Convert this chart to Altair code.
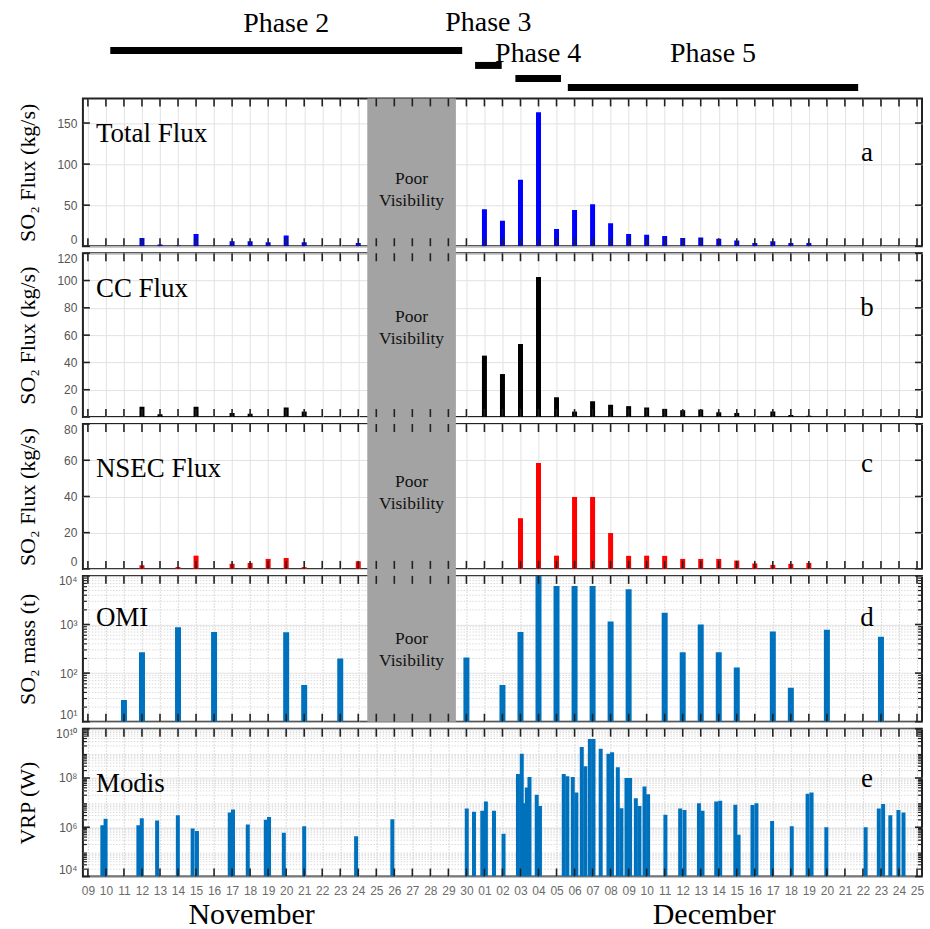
import altair as alt
import pandas as pd

BASE = pd.Timestamp("2021-11-09")


def to_days(values):
    return [(pd.Timestamp(v) - BASE) / pd.Timedelta(days=1) for v in values]


# ---------------- data ----------------
phase_names = ["Phase 2", "Phase 3", "Phase 4", "Phase 5"]
phase_start = ["2021-11-10 12:00", "2021-11-30 12:00", "2021-12-02 17:00", "2021-12-05 14:00"]
phase_end = ["2021-11-29 19:00", "2021-12-01 23:00", "2021-12-05 05:00", "2021-12-21 12:00"]

poor_vis_start = ["2021-11-24 12:00"]
poor_vis_end = ["2021-11-29 10:00"]

total_dates = ["2021-11-12", "2021-11-13", "2021-11-14", "2021-11-15", "2021-11-17",
               "2021-11-18", "2021-11-19", "2021-11-20", "2021-11-21", "2021-11-24",
               "2021-12-01", "2021-12-02", "2021-12-03", "2021-12-04", "2021-12-05",
               "2021-12-06", "2021-12-07", "2021-12-08", "2021-12-09", "2021-12-10",
               "2021-12-11", "2021-12-12", "2021-12-13", "2021-12-14", "2021-12-15",
               "2021-12-16", "2021-12-17", "2021-12-18", "2021-12-19"]
total_flux = [10, 2, 1, 15, 6, 6, 5, 13, 5, 4,
              45, 31, 81, 163, 21, 44, 51, 28, 15, 14,
              12.5, 10, 10.5, 9, 7, 4, 6, 4, 4]

cc_dates = ["2021-11-12", "2021-11-13", "2021-11-15", "2021-11-17", "2021-11-18",
            "2021-11-20", "2021-11-21",
            "2021-12-01", "2021-12-02", "2021-12-03", "2021-12-04", "2021-12-05",
            "2021-12-06", "2021-12-07", "2021-12-08", "2021-12-09", "2021-12-10",
            "2021-12-11", "2021-12-12", "2021-12-13", "2021-12-14", "2021-12-15",
            "2021-12-17", "2021-12-18", "2021-12-19"]
cc_flux = [7.5, 2, 7.5, 3, 2.5, 7, 4,
           45, 31.5, 53.5, 102.5, 14.5, 4, 11.5, 9, 8, 7,
           6, 5, 5.5, 3.5, 3, 4, 1.5, 1]

nsec_dates = ["2021-11-12", "2021-11-14", "2021-11-15", "2021-11-17", "2021-11-18",
              "2021-11-19", "2021-11-20", "2021-11-21", "2021-11-24",
              "2021-12-03", "2021-12-04", "2021-12-05", "2021-12-06", "2021-12-07",
              "2021-12-08", "2021-12-09", "2021-12-10", "2021-12-11", "2021-12-12",
              "2021-12-13", "2021-12-14", "2021-12-15", "2021-12-16", "2021-12-17",
              "2021-12-18", "2021-12-19"]
nsec_flux = [2, 1, 7.3, 2.8, 3.3, 5.5, 6, 1, 4.2,
             28, 58.5, 7.3, 39.7, 39.7, 19.8, 7.2, 7.3, 7.2, 5.5,
             5.5, 5.5, 4.6, 3, 2.2, 2.8, 3.3]

omi_dates = ["2021-11-11", "2021-11-12", "2021-11-14", "2021-11-16", "2021-11-20",
             "2021-11-21", "2021-11-23", "2021-11-30",
             "2021-12-02", "2021-12-03", "2021-12-04", "2021-12-05", "2021-12-06",
             "2021-12-07", "2021-12-08", "2021-12-09", "2021-12-11", "2021-12-12",
             "2021-12-13", "2021-12-14", "2021-12-15", "2021-12-17", "2021-12-18",
             "2021-12-20", "2021-12-23"]
omi_mass = [28, 270, 880, 700, 690, 57, 200, 210,
            57, 700, 11000, 6200, 6200, 6200, 1150, 5300, 1750, 270,
            1000, 270, 130, 720, 50, 780, 560]

# MODIS overpass times, in days after 2021-11-09 00:00
modis_days = [0.80, 0.98, 2.80, 2.99, 3.84, 4.99, 5.81, 6.05, 7.87, 8.05,
              8.87, 9.87, 10.05, 10.87, 12.00, 14.88, 16.89, 21.02, 21.42, 21.88,
              22.08, 22.53, 23.06, 23.86, 24.07, 24.20, 24.35, 24.50, 24.90, 25.08,
              26.40, 26.60, 26.90, 27.10, 27.40, 27.60, 27.85, 28.05, 28.45, 28.88,
              29.08, 29.40, 29.60, 29.88, 30.08, 30.40, 30.60, 30.88, 31.08, 32.04,
              32.86, 33.10, 33.90, 34.10, 34.86, 35.08, 35.92, 36.10, 36.87, 37.09,
              37.96, 39.05, 39.93, 40.15, 40.97, 43.15, 43.88, 44.12, 44.52, 44.97,
              45.25]
modis_vrp = [1.2e6, 2.2e6, 1.2e6, 2.3e6, 1.9e6, 3.1e6, 9e5, 7e5, 4e6, 5.3e6,
             1.3e6, 2.0e6, 2.6e6, 6e5, 1.1e6, 4.3e5, 2.1e6, 5.8e6, 4.3e6, 4.7e6,
             1.1e7, 4.7e6, 5.5e5, 1.45e8, 9.7e8, 9.4e6, 4.1e7, 1.1e8, 2.1e7, 7.3e6,
             1.45e8, 1.17e8, 1.1e8, 2.6e7, 1.8e9, 3e8, 3.8e9, 3.8e9, 1.55e9, 9.7e8,
             1.1e9, 2.7e8, 5.9e6, 1e8, 1e8, 1.5e7, 7.3e6, 4.5e7, 2.2e7, 3.2e6,
             5.8e6, 5e6, 9.4e6, 4.7e6, 1.1e7, 1.2e7, 8.3e6, 5e5, 8.1e6, 9.4e6,
             1.8e6, 1.1e6, 2.3e7, 2.6e7, 1.0e6, 1.0e6, 5.8e6, 8.9e6, 3.1e6, 5e6,
             4e6]

month_names = ["November", "December"]
month_centers = ["2021-11-18 02:00", "2021-12-13 18:00"]

# ---------------- styling ----------------
W = 840
SERIF = "Liberation Serif"
SANS = "Liberation Sans"
FRAME = "#222222"
XS = alt.Scale(domain=[0, 46], nice=False, zero=False)
day_ticks = list(range(0, 47))
SUP = {"0": "\u2070", "1": "\u00b9", "2": "\u00b2", "3": "\u00b3", "4": "\u2074",
       "5": "\u2075", "6": "\u2076", "7": "\u2077", "8": "\u2078", "9": "\u2079"}


def pow_label_expr(exps):
    expr = "''"
    for k in reversed(exps):
        sup = "".join(SUP[c] for c in str(k))
        expr = f"datum.value == {10 ** k} ? '10{sup}' : ({expr})"
    return expr


def x_axis(show_labels, dotted):
    kw = dict(values=day_ticks, ticks=False, domain=False, grid=True,
              gridColor="#e2e2e2", gridWidth=1, title=None)
    if dotted:
        kw["gridDash"] = [1.5, 1.5]
        kw["gridColor"] = "#cfcfcf"
    if show_labels:
        kw.update(labels=True,
                  labelExpr="timeFormat(datetime(2021, 10, 9 + datum.value), '%d')",
                  labelFont=SANS, labelFontSize=12, labelColor="#6b6b6b",
                  labelPadding=9, labelOverlap=False, labelFlush=False, labelAngle=0)
    else:
        kw["labels"] = False
    return alt.Axis(**kw)


def series_df(dates, values):
    return pd.DataFrame({"d": to_days(dates), "v": values})


band_df = pd.DataFrame({"s": to_days(poor_vis_start), "e": to_days(poor_vis_end),
                        "t": ["Poor\nVisibility"]})
day_df = pd.DataFrame({"d": day_ticks})


def panel(df, color, h, ys, y_major, y_title, name, name_y, letter, letter_y,
          label_expr=None, log_exps=None, base=None, bar_size=5,
          show_x=False, band=None, extra=None):
    xax = x_axis(show_x, log_exps is not None)
    yaxis_kw = dict(values=y_major, ticks=False, domain=False, grid=True,
                    gridColor="#e2e2e2", labelFont=SANS, labelFontSize=12,
                    labelColor="#555555", labelPadding=6, labelFlush=True,
                    title=y_title,
                    titleFont=SERIF, titleFontSize=22, titleFontWeight="normal",
                    titleColor="black", titleX=-55, titleY=h / 2, titleAngle=270,
                    titleAlign="center", titleBaseline="middle")
    if label_expr is not None:
        yaxis_kw["labelExpr"] = label_expr
    yax = alt.Axis(**yaxis_kw)

    def X(f):
        return alt.X(f, type="quantitative", scale=XS, axis=xax)

    def Y(f):
        return alt.Y(f, type="quantitative", scale=ys, axis=yax)

    layers = []
    minor = []
    if log_exps is not None:
        minor = [m * 10 ** k for k in log_exps[:-1] for m in range(2, 10)]
        mdf = pd.DataFrame({"v": minor})
        layers.append(alt.Chart(mdf).mark_rule(color="#dadada", strokeDash=[1.5, 1.5],
                                               strokeWidth=1).encode(
            y=Y("v"), x=alt.value(0), x2=alt.value(W)))
    if band is not None:
        top, bot, text_y = band
        layers.append(alt.Chart(band_df).mark_rect(color="#a3a3a3").encode(
            x=X("s"), x2="e:Q", y=alt.value(top), y2=alt.value(h + bot)))

    enc = dict(x=X("d"), y=Y("v"))
    if base is not None:
        enc["y2"] = alt.datum(base)
    layers.append(alt.Chart(df).mark_bar(size=bar_size, color=color, clip=True).encode(**enc))

    # inward day ticks, top and bottom
    tl = 8
    layers.append(alt.Chart(day_df).mark_rule(color=FRAME, strokeWidth=1.6).encode(
        x=X("d"), y=alt.value(0), y2=alt.value(tl)))
    layers.append(alt.Chart(day_df).mark_rule(color=FRAME, strokeWidth=1.6).encode(
        x=X("d"), y=alt.value(h - tl), y2=alt.value(h)))
    # inward y ticks left and right
    ydf = pd.DataFrame({"v": y_major})
    for x0, x1 in [(0, 7), (W - 7, W)]:
        layers.append(alt.Chart(ydf).mark_rule(color=FRAME, strokeWidth=1.6).encode(
            y=Y("v"), x=alt.value(x0), x2=alt.value(x1)))
    if minor:
        mdf = pd.DataFrame({"v": minor})
        for x0, x1 in [(0, 4), (W - 4, W)]:
            layers.append(alt.Chart(mdf).mark_rule(color=FRAME, strokeWidth=1.2).encode(
                y=Y("v"), x=alt.value(x0), x2=alt.value(x1)))

    if band is not None:
        layers.append(alt.Chart(band_df).transform_calculate(
            c="(datum.s + datum.e) / 2").mark_text(
            font=SERIF, fontSize=17.5, lineBreak="\n", lineHeight=22, color="#111111",
            align="center", baseline="middle").encode(
            x=X("c"), y=alt.value(band[2]), text="t:N"))

    layers.append(alt.Chart(pd.DataFrame({"t": [name]})).mark_text(
        font=SERIF, fontSize=27, align="left", baseline="middle", color="black").encode(
        text="t:N", x=alt.value(13), y=alt.value(name_y)))
    layers.append(alt.Chart(pd.DataFrame({"t": [letter]})).mark_text(
        font=SERIF, fontSize=27, align="center", baseline="middle", color="black").encode(
        text="t:N", x=alt.value(785), y=alt.value(letter_y)))
    if extra is not None:
        for ch, fields in extra:
            layers.append(ch.encode(x=X(fields)))
    return alt.layer(*layers).properties(width=W, height=h)


# ---------------- header with phases ----------------
phase_df = pd.DataFrame({"phase": phase_names, "s": to_days(phase_start),
                         "e": to_days(phase_end)})
bar_y = [44, 59, 72, 81]
text_y = [26, 25, 56, 56]
hdr_layers = []
for p, by, ty in zip(phase_names, bar_y, text_y):
    base_c = alt.Chart(phase_df).transform_filter(alt.datum.phase == p)
    hdr_layers.append(base_c.mark_rule(color="black", strokeWidth=7).encode(
        x=alt.X("s:Q", scale=XS, axis=None), x2="e:Q", y=alt.value(by)))
    hdr_layers.append(base_c.transform_calculate(c="(datum.s + datum.e) / 2").mark_text(
        font=SERIF, fontSize=28, align="center", baseline="alphabetic", color="black").encode(
        x=alt.X("c:Q", scale=XS, axis=None), y=alt.value(ty), text="phase:N"))
header = alt.layer(*hdr_layers).properties(
    width=W, height=85, view=alt.ViewBackground(stroke="transparent"))

# ---------------- panels ----------------
pa = panel(series_df(total_dates, total_flux), "#0000ff", 148,
           alt.Scale(domain=[0, 180], nice=False), [0, 50, 100, 150],
           "SO\u2082 Flux (kg/s)", "Total Flux", 36, "a", 55, band=(0, 4, 81))
pb = panel(series_df(cc_dates, cc_flux), "#000000", 164,
           alt.Scale(domain=[0, 120], nice=False), [0, 20, 40, 60, 80, 100, 120],
           "SO\u2082 Flux (kg/s)", "CC Flux", 36, "b", 55, band=(-4, 4, 64))
pc = panel(series_df(nsec_dates, nsec_flux), "#ff0000", 145,
           alt.Scale(domain=[0, 80], nice=False), [0, 20, 40, 60, 80],
           "SO\u2082 Flux (kg/s)", "NSEC Flux", 45, "c", 40, band=(-4, 4, 58))
pd_ = panel(series_df(omi_dates, omi_mass), "#0072BD", 146,
            alt.Scale(type="log", domain=[10, 10000], nice=False), [10, 100, 1000, 10000],
            "SO\u2082 mass (t)", "OMI", 42, "d", 42,
            label_expr=pow_label_expr([1, 2, 3, 4]), log_exps=[1, 2, 3, 4], base=10,
            bar_size=6, band=(-4, 0, 63))

month_chart = alt.Chart(pd.DataFrame({"m": month_names, "c": to_days(month_centers)})).mark_text(
    font=SERIF, fontSize=30, align="center", baseline="middle", color="black").encode(
    y=alt.value(148 + 38), text="m:N")

pe = panel(pd.DataFrame({"d": modis_days, "v": modis_vrp}), "#0072BD", 148,
           alt.Scale(type="log", domain=[1e4, 1e10], nice=False),
           [10 ** 4, 10 ** 6, 10 ** 8, 10 ** 10],
           "VRP (W)", "Modis", 55, "e", 50,
           label_expr=pow_label_expr([4, 6, 8, 10]),
           log_exps=[4, 5, 6, 7, 8, 9, 10], base=1e4, bar_size=4, show_x=True,
           extra=[(month_chart, "c")])

chart = alt.vconcat(header, pa, pb, pc, pd_, pe, spacing=7, bounds="flush").properties(
    padding={"left": 16, "top": 5, "right": 5, "bottom": 0}
).configure_view(stroke=FRAME, strokeWidth=2)

chart.save("out.html", embed_options={"renderer": "svg", "actions": False})
